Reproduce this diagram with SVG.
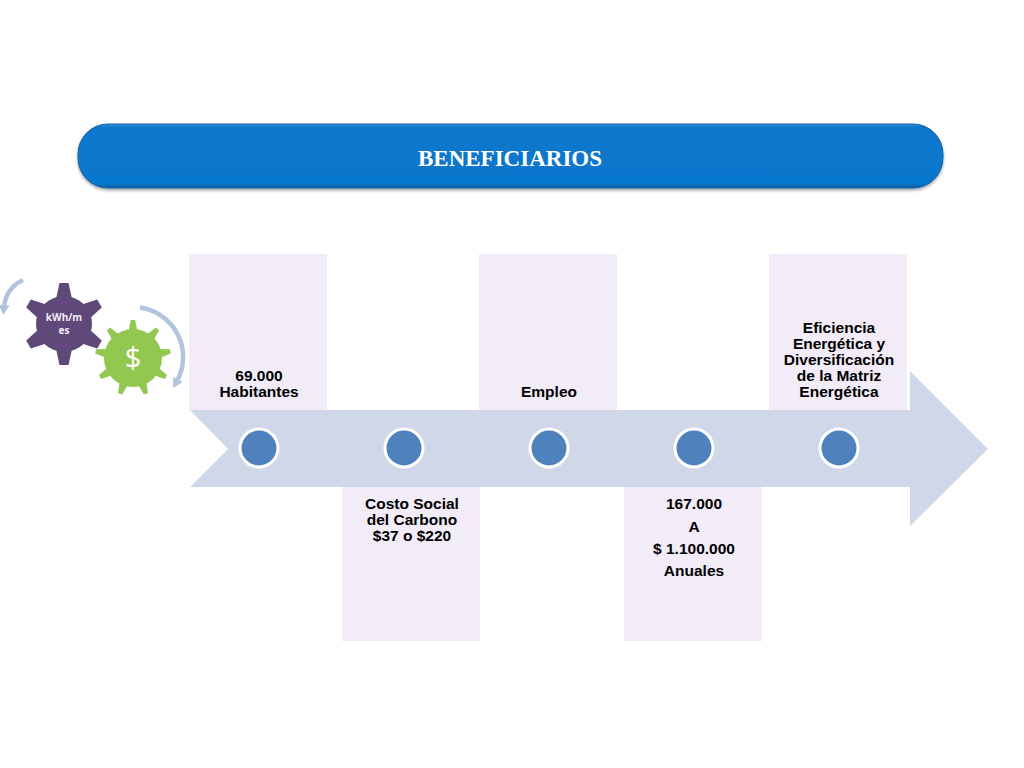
<svg xmlns="http://www.w3.org/2000/svg" width="1024" height="768" viewBox="0 0 1024 768">
<style>
.box{fill:#f1ecf8}
.dot{fill:#4f81bd;stroke:#fff;stroke-width:3}
.t{font-family:"Liberation Sans",Arial,sans-serif;font-weight:700;font-size:15.5px;fill:#000;text-anchor:middle}
.arc{fill:none;stroke:#b3c4de;stroke-width:4.5}
</style>
<defs>
<linearGradient id="g" x1="0" y1="0" x2="0" y2="1">
<stop offset="0" stop-color="#3a92d8"/><stop offset=".05" stop-color="#0a78cd"/><stop offset=".93" stop-color="#0676cc"/><stop offset="1" stop-color="#0a5c9e"/>
</linearGradient>
<filter id="s" x="-5%" y="-20%" width="110%" height="140%"><feDropShadow dx="0" dy="2" stdDeviation="1.5" flood-color="#000" flood-opacity=".35"/></filter>
<polygon id="pt" points="-8,-25 -4.5,-41 4.5,-41 8,-25" fill="#5f497a"/>
<polygon id="gt" points="-4.5,-26 -2.2,-38 2.2,-38 4.5,-26" fill="#92c84f"/>
<marker id="ah" markerUnits="userSpaceOnUse" markerWidth="10" markerHeight="11" refX="2" refY="5.5" orient="auto"><path d="M0,0L10,5.5L0,11Z" fill="#b3c4de"/></marker>
</defs>
<g id="banner">
<rect x="78" y="124" width="865" height="64" rx="30" fill="url(#g)" stroke="#0f62a6" filter="url(#s)"/>
<text x="510" y="166" text-anchor="middle" font-family="'Liberation Serif',serif" font-weight="700" font-size="23" fill="#fff">BENEFICIARIOS</text>
</g>
<g id="boxes">
<rect class="box" x="189" y="254" width="138" height="156"/>
<rect class="box" x="479" y="254" width="138" height="156"/>
<rect class="box" x="769" y="254" width="138" height="156"/>
<rect class="box" x="342" y="487" width="138" height="154"/>
<rect class="box" x="624" y="487" width="138" height="154"/>
</g>
<g id="arrow"><polygon points="190,410 910,410 910,371 988,449 910,526 910,487 190,487 228,449" fill="#d0d7e8"/></g>
<g id="dots">
<circle class="dot" cx="259" cy="448" r="19"/>
<circle class="dot" cx="404" cy="448" r="19"/>
<circle class="dot" cx="549" cy="448" r="19"/>
<circle class="dot" cx="694" cy="448" r="19"/>
<circle class="dot" cx="839" cy="448" r="19"/>
</g>
<g id="n1"><text class="t"><tspan x="259" y="381">69.000</tspan><tspan x="259" y="397">Habitantes</tspan></text></g>
<g id="n2"><text class="t"><tspan x="412" y="509">Costo Social</tspan><tspan x="412" y="525">del Carbono</tspan><tspan x="412" y="541">$37 o $220</tspan></text></g>
<g id="n3"><text class="t"><tspan x="549" y="397">Empleo</tspan></text></g>
<g id="n4"><text class="t"><tspan x="694" y="509">167.000</tspan><tspan x="694" y="532">A</tspan><tspan x="694" y="554">$ 1.100.000</tspan><tspan x="694" y="576">Anuales</tspan></text></g>
<g id="n5"><text class="t"><tspan x="839" y="333">Eficiencia</tspan><tspan x="839" y="349">Energética y</tspan><tspan x="839" y="365">Diversificación</tspan><tspan x="839" y="381">de la Matriz</tspan><tspan x="839" y="397">Energética</tspan></text></g>
<g id="gear-kwh" transform="translate(64,324)">
<circle r="28" fill="#5f497a"/>
<use href="#pt"/><use href="#pt" transform="rotate(60)"/><use href="#pt" transform="rotate(120)"/><use href="#pt" transform="rotate(180)"/><use href="#pt" transform="rotate(240)"/><use href="#pt" transform="rotate(300)"/>
<text y="-3" text-anchor="middle" font-family="'Open Sans',sans-serif" font-weight="700" font-size="10" fill="#f0ecf4">kWh/m</text>
<text y="10" text-anchor="middle" font-family="'Open Sans',sans-serif" font-weight="700" font-size="10" fill="#f0ecf4">es</text>
</g>
<g id="gear-money" transform="translate(133,358)">
<circle r="29" fill="#92c84f"/>
<use href="#gt"/><use href="#gt" transform="rotate(40)"/><use href="#gt" transform="rotate(80)"/><use href="#gt" transform="rotate(120)"/><use href="#gt" transform="rotate(160)"/><use href="#gt" transform="rotate(200)"/><use href="#gt" transform="rotate(240)"/><use href="#gt" transform="rotate(280)"/><use href="#gt" transform="rotate(320)"/>
<text y="10" text-anchor="middle" font-family="'Open Sans',sans-serif" font-weight="400" font-size="29" fill="#fff">$</text>
</g>
<g id="connectors">
<path class="arc" d="M140,307.5A50,50 0 0 1 177,381" marker-end="url(#ah)"/>
<path class="arc" d="M23,280Q6,288 4,307" marker-end="url(#ah)"/>
</g>
</svg>
